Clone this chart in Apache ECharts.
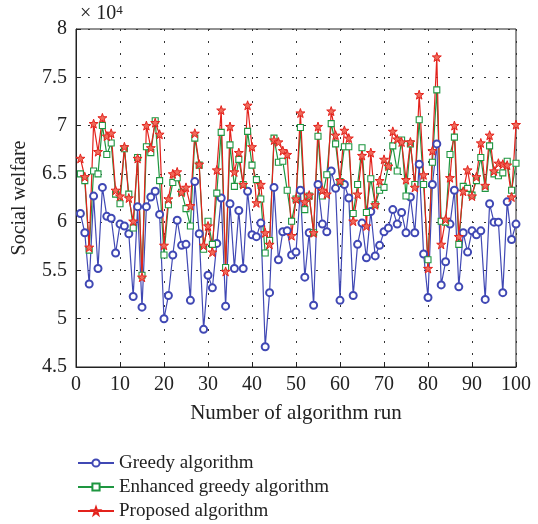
<!DOCTYPE html>
<html>
<head>
<meta charset="utf-8">
<script src="https://cdn.jsdelivr.net/npm/echarts@6/dist/echarts.min.js"></script>
<style>
html,body{margin:0;padding:0;background:#fff;}
#main{width:538px;height:524px;}
</style>
</head>
<body>
<div id="main"></div>
<script>
// values in units of 10^4
let greedy=[6.09,5.89,5.36,6.27,5.52,6.36,6.06,6.04,5.68,5.98,
	5.96,5.88,5.23,6.16,5.12,6.16,6.26,6.32,6.08,5.0,
	5.24,5.66,6.02,5.76,5.77,5.19,6.42,5.88,4.89,5.45,
	5.32,5.78,6.25,5.13,6.19,5.52,6.12,5.52,6.32,5.87,
	5.85,5.99,4.71,5.27,6.36,5.61,5.9,5.91,5.66,5.69,
	6.33,5.43,5.89,5.14,6.39,5.98,5.9,6.53,6.35,5.19,
	6.39,6.25,5.24,5.77,5.99,5.63,6.11,5.65,5.76,5.9,
	5.94,6.13,5.98,6.1,5.89,6.26,5.89,6.6,5.67,5.22,
	6.39,6.81,5.35,5.59,5.98,6.33,5.33,5.89,5.69,5.91,
	5.87,5.91,5.2,6.19,6.0,6.0,5.27,6.21,5.82,5.98];
let enhanced=[6.5,6.43,5.71,6.53,6.5,7.0,6.7,6.82,6.29,6.19,
	6.76,6.29,5.94,6.67,5.45,6.78,6.72,7.05,6.43,5.66,
	6.18,6.41,6.46,6.31,6.14,5.96,6.87,6.59,5.72,6.01,
	5.77,6.3,6.93,5.53,6.8,6.37,6.65,6.39,6.94,6.59,
	6.44,6.24,5.68,5.81,6.87,6.62,6.63,6.33,6.01,6.24,
	6.98,6.13,6.27,5.89,6.89,6.27,6.49,7.02,6.81,6.42,
	6.78,6.78,6.09,6.39,6.77,6.1,6.45,6.18,6.33,6.36,
	6.58,6.79,6.53,6.85,6.27,6.81,6.39,7.06,6.39,5.61,
	6.62,7.37,6.01,6.0,6.7,6.88,5.77,6.37,6.35,6.28,
	6.43,6.67,6.35,6.79,6.5,6.48,6.51,6.63,6.33,6.61];
let proposed=[6.66,6.47,5.74,7.02,6.73,7.08,6.89,6.92,6.33,6.27,
	6.78,6.25,6.01,6.66,5.43,7.0,6.77,7.03,6.91,5.76,
	6.24,6.5,6.52,6.31,6.36,6.17,6.92,6.6,5.76,5.96,
	5.69,6.54,7.16,5.49,6.99,6.52,6.72,6.39,7.21,6.78,
	6.2,6.39,5.89,5.77,6.85,6.83,6.74,6.7,5.86,6.24,
	7.13,6.21,6.28,5.89,6.99,6.33,6.29,7.15,6.9,6.43,
	6.95,6.87,6.01,6.29,6.69,5.96,6.72,6.18,6.43,6.65,
	6.58,6.94,6.86,6.83,6.44,6.83,6.36,7.32,6.49,5.52,
	6.74,7.71,5.77,6.03,6.46,7.0,5.85,6.32,6.54,6.27,
	6.47,6.82,6.38,6.9,6.53,6.61,6.6,6.59,6.26,7.01];
let names=["Greedy algorithm","Enhanced greedy algorithm","Proposed algorithm"];

let font="Liberation Serif";
let star="path://M0,-10L2.35,-3.24L9.51,-3.09L3.8,1.24L5.88,8.09L0,4L-5.88,8.09L-3.8,1.24L-9.51,-3.09L-2.35,-3.24Z";

function pairs(arr){
	return arr.map(function(v,i){ return [i+1,v]; });
}

var myChart=echarts.init(document.querySelector("#main"));
option={
	animation:false,
	textStyle:{fontFamily:font,color:"#222"},
	grid:{left:76,top:29,width:440,height:338,show:true,borderColor:"#222",borderWidth:1},
	xAxis:{
		type:"value",min:0,max:100,interval:10,
		name:"Number of algorithm run",nameLocation:"middle",nameGap:36,
		nameTextStyle:{fontSize:21,fontFamily:font,color:"#222"},
		axisLine:{lineStyle:{color:"#222"}},
		axisTick:{inside:true,length:5,lineStyle:{color:"#222"}},
		axisLabel:{fontSize:20,fontFamily:font,color:"#222",margin:8},
		splitLine:{show:true,lineStyle:{color:"#333",type:[2,10],width:1}}
	},
	yAxis:{
		type:"value",min:4.5,max:8,interval:0.5,
		name:"Social welfare",nameLocation:"middle",nameGap:46,
		nameTextStyle:{fontSize:20,fontFamily:font,color:"#222"},
		axisLine:{show:true,lineStyle:{color:"#222"}},
		axisTick:{show:true,inside:true,length:5,lineStyle:{color:"#222"}},
		axisLabel:{fontSize:20,fontFamily:font,color:"#222",margin:9},
		splitLine:{show:true,lineStyle:{color:"#333",type:[2,10],width:1}}
	},
	graphic:[{
		type:"text",left:80,top:4,
		style:{
			text:"{a|× 10}{b|4}",
			rich:{
				a:{fontSize:20,fontFamily:font,fill:"#222"},
				b:{fontSize:13,fontFamily:font,fill:"#222",verticalAlign:"top"}
			}
		}
	}],
	legend:{
		orient:"vertical",left:77,top:453,padding:0,itemWidth:36,itemHeight:9,itemGap:4,
		textStyle:{fontSize:19,fontFamily:font,color:"#222",lineHeight:20},
		data:names
	},
	series:[{
		name:names[0],type:"line",data:pairs(greedy),
		symbol:"emptyCircle",symbolSize:7,
		lineStyle:{color:"#4048b4",width:1.2},
		itemStyle:{color:"#4048b4",borderWidth:1.1}
	},{
		name:names[1],type:"line",data:pairs(enhanced),
		symbol:"rect",symbolSize:6,
		lineStyle:{color:"#1e9640",width:1.2},
		itemStyle:{color:"#fff",borderColor:"#1e9640",borderWidth:1.1}
	},{
		name:names[2],type:"line",data:pairs(proposed),
		symbol:star,symbolSize:9,
		lineStyle:{color:"#e3221c",width:1.2},
		itemStyle:{color:"#f06a5a",borderColor:"#e3221c",borderWidth:1}
	}]
};
myChart.setOption(option);
</script>
</body>
</html>
